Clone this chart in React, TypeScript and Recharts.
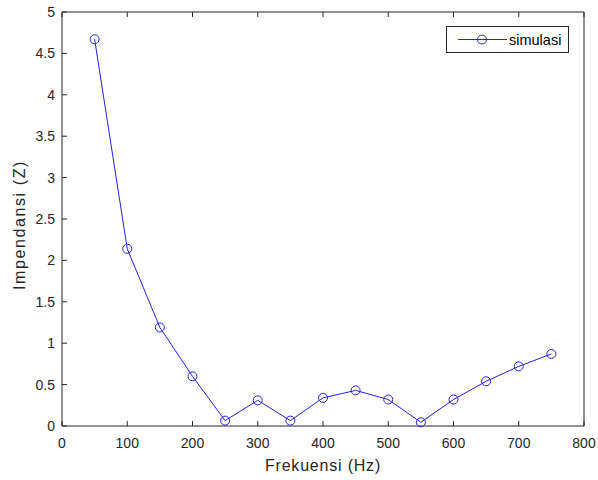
import { LineChart, Line, XAxis, YAxis, Legend, Label } from 'recharts'

// frequency sweep (Hz) and simulated impedance magnitude
const frequencies = [50, 100, 150, 200, 250, 300, 350, 400, 450, 500, 550, 600, 650, 700, 750]
const impedance = [4.67, 2.14, 1.19, 0.6, 0.065, 0.31, 0.065, 0.34, 0.43, 0.32, 0.045, 0.32, 0.54, 0.72, 0.87]

const xTicks = [0, 100, 200, 300, 400, 500, 600, 700, 800]
const yTicks = [0, 0.5, 1, 1.5, 2, 2.5, 3, 3.5, 4, 4.5, 5]

const seriesName = 'simulasi'
const xTitle = 'Frekuensi (Hz)'
const yTitle = 'Impendansi (Z)'

const data = frequencies.map((f, i) => ({ freq: f, z: impedance[i] }))

const FONT = '"Liberation Sans", Arial, Helvetica, sans-serif'
const AXIS = '#262626'
const BLUE = '#2222d6'

const tickStyle = { fill: AXIS, fontSize: 14, fontFamily: FONT }

function LegendBox() {
  return (
    <svg width={123} height={27} style={{ display: 'block' }}>
      <rect x={0.5} y={0.5} width={122} height={26} fill="#fff" stroke={AXIS} strokeWidth={1} />
      <line x1={12} y1={13.5} x2={61} y2={13.5} stroke={BLUE} strokeWidth={1} />
      <circle cx={36} cy={13.5} r={4.5} fill="none" stroke={BLUE} strokeWidth={1} />
      <text x={63} y={18.5} fontSize={14.5} fontFamily={FONT} fill="#000">
        {seriesName}
      </text>
    </svg>
  )
}

export default function App() {
  return (
    <div style={{ position: 'absolute', left: 0, top: 0, width: 598, height: 480, background: '#fff' }}>
      <LineChart width={598} height={480} data={data} margin={{ top: 11, right: 13, bottom: 0, left: 0 }}>
        <XAxis
          dataKey="freq"
          type="number"
          domain={[0, 800]}
          ticks={xTicks}
          height={54}
          tickSize={-5}
          tickMargin={17}
          tick={tickStyle}
          stroke={AXIS}
          interval={0}
        >
          <Label
            content={({ viewBox }: any) => (
              <text
                x={viewBox.x + viewBox.width / 2}
                y={viewBox.y + 45}
                textAnchor="middle"
                fontSize={16}
                letterSpacing={0.8}
                fontFamily={FONT}
                fill={AXIS}
              >
                {xTitle}
              </text>
            )}
          />
        </XAxis>
        {/* box outline: top axis with inward ticks, no labels */}
        <XAxis
          xAxisId="top"
          dataKey="freq"
          orientation="top"
          type="number"
          domain={[0, 800]}
          ticks={xTicks}
          height={1}
          tickSize={-5}
          tickFormatter={() => ''}
          stroke={AXIS}
          interval={0}
        />
        <YAxis
          type="number"
          domain={[0, 5]}
          ticks={yTicks}
          width={62}
          tickSize={-5}
          tickMargin={12}
          tick={tickStyle}
          stroke={AXIS}
          interval={0}
        >
          <Label
            content={({ viewBox }: any) => {
              const cx = 19
              const cy = viewBox.y + viewBox.height / 2 + 6
              return (
                <text
                  x={cx}
                  y={cy}
                  transform={`rotate(-90 ${cx} ${cy})`}
                  textAnchor="middle"
                  dominantBaseline="central"
                  fontSize={16}
                  letterSpacing={1.6}
                  fontFamily={FONT}
                  fill={AXIS}
                >
                  {yTitle}
                </text>
              )
            }}
          />
        </YAxis>
        {/* box outline: right axis with inward ticks, no labels */}
        <YAxis
          yAxisId="right"
          orientation="right"
          type="number"
          domain={[0, 5]}
          ticks={yTicks}
          width={1}
          tickSize={-5}
          tickFormatter={() => ''}
          stroke={AXIS}
          interval={0}
        />
        <Legend
          layout="horizontal"
          verticalAlign="middle"
          align="center"
          wrapperStyle={{ position: 'absolute', left: 446, top: 26, width: 123, height: 27 }}
          content={() => <LegendBox />}
        />
        <Line
          type="linear"
          dataKey="z"
          name={seriesName}
          stroke={BLUE}
          strokeWidth={1}
          dot={{ r: 4.5, stroke: BLUE, strokeWidth: 1, fill: 'none' }}
          activeDot={false}
          isAnimationActive={false}
        />
      </LineChart>
    </div>
  )
}
